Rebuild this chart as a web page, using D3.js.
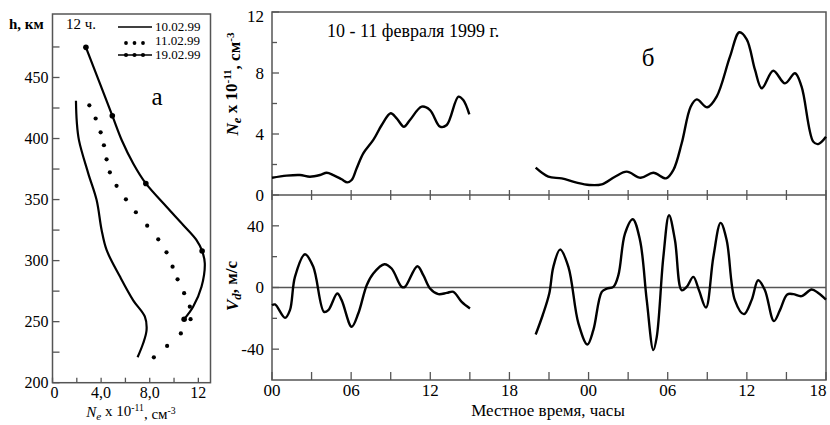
<!DOCTYPE html>
<html><head><meta charset="utf-8">
<script src="https://cdn.jsdelivr.net/npm/d3@7"></script>
<style>
body{margin:0;background:#fff}
svg{display:block}
text{font-family:"Liberation Serif","Times New Roman",serif;fill:#000}
</style>
</head><body>
<svg id="c" width="830" height="425"></svg>
<script>
// ---------- Panel (а): electron density profiles, [Ne, h] ----------
const profile1002 = [[1.93,431.0],[2.0,413.4],[2.18,398.5],[2.94,371.5],[3.63,349.6],[4.04,325.1],[4.45,308.7],[5.55,286.9],[6.64,267.5],[7.6,254.1],[7.74,243.2],[7.46,232.3],[7.0,220.8]];
const profile1102 = [[3.03,427.2],[3.55,416.4],[3.96,405.1],[4.23,394.5],[4.45,383.0],[4.72,372.3],[5.27,361.3],[6.04,350.2],[6.86,339.6],[7.79,328.6],[8.7,317.4],[9.38,306.8],[9.88,295.0],[10.29,284.7],[10.83,273.3],[11.30,262.3],[11.36,252.0],[10.56,240.4],[9.43,230.1],[8.34,220.8]];
const profile1902 = [[2.75,474.7],[4.92,418.7],[5.69,398.8],[6.64,379.6],[7.68,363.2],[9.38,344.1],[10.75,329.2],[11.85,316.8],[12.31,307.9],[12.53,297.8],[12.26,278.6],[11.57,262.2],[10.83,252.0]];
const markers1902 = [[2.75,474.7],[4.92,418.7],[7.68,363.2],[12.31,307.9],[10.83,252.0]];
const legendLabels = ["10.02.99","11.02.99","19.02.99"];
const hTicks = [200,250,300,350,400,450];
const hMinor = [225,275,325,375,425,475];
const neTicksL = [0,4,8,12];
const neTickLabelsL = ["0","4,0","8,0","12"];
const neMinorL = [2,6,10];

// ---------- Panel (б): time series, [hour since 00 on 10.02, value] ----------
const neDay1 = [[0,1.13],[1.11,1.27],[2.12,1.31],[2.88,1.2],[3.64,1.31],[4.15,1.46],[4.65,1.31],[5.28,1.03],[5.71,0.83],[6.04,0.98],[6.42,1.75],[6.92,2.73],[7.68,3.61],[8.32,4.59],[9.0,5.36],[9.45,5.03],[10.0,4.48],[10.46,4.92],[11.35,5.79],[11.98,5.57],[12.74,4.48],[13.25,4.59],[14.13,6.45],[14.5,6.23],[14.96,5.29]];
const neDay2 = [[19.99,1.79],[20.95,1.2],[21.96,1.09],[23.1,0.81],[24.06,0.66],[25.0,0.7],[26.0,1.2],[26.89,1.53],[27.95,1.13],[28.91,1.46],[29.87,1.09],[30.43,1.64],[31.06,3.39],[31.74,5.79],[32.2,6.27],[33.0,5.75],[33.71,6.45],[34.72,9.07],[35.43,10.67],[35.99,10.21],[36.62,8.2],[37.13,7.0],[38.0,8.15],[38.89,7.32],[39.65,7.98],[40.15,7.1],[41.03,3.5],[41.41,3.34],[42,3.82]];
const vDay1 = [[0,-11.5],[0.23,-11],[0.99,-19.7],[1.36,-14.7],[1.74,6.9],[2.5,21.6],[3.13,13.4],[3.94,-15.8],[4.27,-14.7],[4.95,-3.9],[5.28,-8.2],[6.04,-25.5],[6.54,-16.9],[7.18,1.5],[7.68,9.1],[8.52,15.1],[9.07,12.3],[9.83,0.4],[10.08,0.4],[11.02,13.8],[11.47,8],[11.98,-0.6],[12.61,-4.3],[13.25,-3.5],[13.75,-2.8],[14.38,-9.3],[15.01,-13.6]];
const vDay2 = [[19.99,-30.5],[20.52,-18],[21.02,-3.9],[21.33,13.4],[21.84,24.6],[22.47,13.4],[23.23,-23.3],[23.91,-37],[24.36,-27.7],[25.0,-2.8],[25.38,-0.7],[25.88,0.4],[26.26,8],[26.76,35],[27.35,44.3],[27.9,30.7],[28.41,-8.2],[28.91,-40.6],[29.17,-32],[29.67,19.8],[30.1,46.9],[30.55,30.7],[31.06,-1.8],[31.44,0.4],[31.94,6.9],[32.37,-1.8],[32.9,-13],[33.46,19.8],[34.01,41.9],[34.47,30.7],[35.09,-8.2],[35.78,-17.3],[36.36,-8.2],[36.86,4.7],[37.37,-1.8],[38.05,-21.8],[38.51,-14.7],[39.06,-4.5],[39.52,-4.3],[40.15,-5.6],[40.91,-1.3],[41.41,-3.5],[42,-7.8]];
const hourTicks = [0,6,12,18,24,30,36,42];
const hourLabels = ["00","06","12","18","00","06","12","18"];
const hourMinor = [3,9,15,21,27,33,39];
const neTicksR = [0,4,8,12];
const neMinorR = [2,6,10];
const vTicks = [-40,0,40];
const vMinor = [-20,20];

const svg = d3.select("#c");
const axisColor = "#555";

// ===== Panel а =====
const xL = d3.scaleLinear([0,13],[52.5,210.5]);
const yL = d3.scaleLinear([200,502],[382.7,14]);
const gL = svg.append("g");
gL.append("rect").attr("x",xL(0)).attr("y",yL(502)).attr("width",xL(13)-xL(0)).attr("height",yL(200)-yL(502))
  .attr("fill","none").attr("stroke",axisColor).attr("stroke-width",1.5);
hTicks.concat(hMinor).forEach(h=>{
  gL.append("line").attr("x1",xL(0)).attr("x2",xL(0)+7).attr("y1",yL(h)).attr("y2",yL(h)).attr("stroke",axisColor).attr("stroke-width",1.3);
});
hTicks.forEach(h=>{
  gL.append("text").attr("x",xL(0)-4).attr("y",yL(h)).attr("dy","0.35em").attr("text-anchor","end").attr("font-size",16).text(h);
});
neTicksL.concat(neMinorL).forEach(v=>{
  gL.append("line").attr("x1",xL(v)).attr("x2",xL(v)).attr("y1",yL(200)).attr("y2",yL(200)-5).attr("stroke",axisColor).attr("stroke-width",1.3);
});
neTicksL.forEach((v,i)=>{
  gL.append("text").attr("x",xL(v)+(i===0?2:0)).attr("y",398).attr("text-anchor","middle").attr("font-size",16).text(neTickLabelsL[i]);
});
function neTitle(t, big){
  t.append("tspan").attr("font-style","italic").text("N");
  t.append("tspan").attr("font-style","italic").attr("font-size","75%").attr("dy","0.25em").text("e");
  t.append("tspan").attr("dy","-0.25em").text(big ? " x 10" : " x 10");
  t.append("tspan").attr("font-size","65%").attr("dy","-0.5em").text("-11");
  t.append("tspan").attr("dy","0.5em").text(", см");
  t.append("tspan").attr("font-size","65%").attr("dy","-0.5em").text("-3");
}
neTitle(gL.append("text").attr("x",131).attr("y",417).attr("text-anchor","middle").attr("font-size",15), false);
gL.append("text").attr("x",9).attr("y",29).attr("font-size",15).attr("font-weight","bold").text("h, км");
gL.append("text").attr("x",66).attr("y",29).attr("font-size",15).text("12 ч.");
gL.append("text").attr("x",157).attr("y",105).attr("text-anchor","middle").attr("font-size",25).text("а");

const lineL = d3.line().x(d=>xL(d[0])).y(d=>yL(d[1])).curve(d3.curveCatmullRom.alpha(0.5));
gL.append("path").attr("d",lineL(profile1002)).attr("fill","none").attr("stroke","#000").attr("stroke-width",2.2);
gL.append("path").attr("d",lineL(profile1902)).attr("fill","none").attr("stroke","#000").attr("stroke-width",2.2);
gL.selectAll("circle.d11").data(profile1102).join("circle").attr("cx",d=>xL(d[0])).attr("cy",d=>yL(d[1])).attr("r",2.1).attr("fill","#000");
gL.selectAll("circle.m19").data(markers1902).join("circle").attr("cx",d=>xL(d[0])).attr("cy",d=>yL(d[1])).attr("r",2.8).attr("fill","#000");

// legend
const lg = gL.append("g");
lg.append("line").attr("x1",118).attr("x2",152).attr("y1",27).attr("y2",27).attr("stroke","#000").attr("stroke-width",1.3);
[126,134.5,143].forEach(x=>lg.append("circle").attr("cx",x).attr("cy",43).attr("r",1.9).attr("fill","#000"));
lg.append("line").attr("x1",118).attr("x2",152).attr("y1",55).attr("y2",55).attr("stroke","#000").attr("stroke-width",1.3);
[126,134.5,143].forEach(x=>lg.append("circle").attr("cx",x).attr("cy",55).attr("r",2.1).attr("fill","#000"));
legendLabels.forEach((s,i)=>lg.append("text").attr("x",155).attr("y",31+i*14).attr("font-size",13).text(s));

// ===== Panel б =====
const x = d3.scaleLinear([0,42],[272,826]);
const yN = d3.scaleLinear([0,12],[195,12]);
const yV = d3.scaleLinear([-60,60],[380,195]);
const gR = svg.append("g");
gR.append("rect").attr("x",x(0)).attr("y",yN(12)).attr("width",x(42)-x(0)).attr("height",yV(-60)-yN(12))
  .attr("fill","none").attr("stroke",axisColor).attr("stroke-width",1.5);
gR.append("line").attr("x1",x(0)).attr("x2",x(42)).attr("y1",yN(0)).attr("y2",yN(0)).attr("stroke",axisColor).attr("stroke-width",1.5);
gR.append("line").attr("x1",x(0)).attr("x2",x(42)).attr("y1",yV(0)).attr("y2",yV(0)).attr("stroke",axisColor).attr("stroke-width",1.3);
// y ticks
neTicksR.forEach(v=>gR.append("line").attr("x1",x(0)).attr("x2",x(0)+7).attr("y1",yN(v)).attr("y2",yN(v)).attr("stroke",axisColor).attr("stroke-width",1.3));
neMinorR.forEach(v=>gR.append("line").attr("x1",x(0)).attr("x2",x(0)+5).attr("y1",yN(v)).attr("y2",yN(v)).attr("stroke",axisColor).attr("stroke-width",1.3));
vTicks.forEach(v=>gR.append("line").attr("x1",x(0)).attr("x2",x(0)+7).attr("y1",yV(v)).attr("y2",yV(v)).attr("stroke",axisColor).attr("stroke-width",1.3));
vMinor.forEach(v=>gR.append("line").attr("x1",x(0)).attr("x2",x(0)+5).attr("y1",yV(v)).attr("y2",yV(v)).attr("stroke",axisColor).attr("stroke-width",1.3));
neTicksR.forEach(v=>gR.append("text").attr("x",264).attr("y",yN(v)+(v===12?4:0)).attr("dy","0.35em").attr("text-anchor","end").attr("font-size",17).text(v));
vTicks.forEach(v=>gR.append("text").attr("x",264).attr("y",yV(v)).attr("dy","0.35em").attr("text-anchor","end").attr("font-size",17).text(v));
// x ticks
hourTicks.concat(hourMinor).forEach(h=>{
  gR.append("line").attr("x1",x(h)).attr("x2",x(h)).attr("y1",yV(-60)).attr("y2",yV(-60)-8).attr("stroke",axisColor).attr("stroke-width",1.3);
  gR.append("line").attr("x1",x(h)).attr("x2",x(h)).attr("y1",yN(0)-5).attr("y2",yN(0)+5).attr("stroke",axisColor).attr("stroke-width",1.3);
});
hourTicks.forEach((h,i)=>{
  const tx = i===hourTicks.length-1 ? x(h)-8 : x(h);
  gR.append("text").attr("x",tx).attr("y",396).attr("text-anchor","middle").attr("font-size",17).text(hourLabels[i]);
});
gR.append("text").attr("x",548).attr("y",416).attr("text-anchor","middle").attr("font-size",17).text("Местное время, часы");
// y titles
neTitle(gR.append("text").attr("transform","translate(238,84) rotate(-90)").attr("text-anchor","middle").attr("font-size",17).attr("font-weight","bold"), true);
const vt = gR.append("text").attr("transform","translate(238,286) rotate(-90)").attr("text-anchor","middle").attr("font-size",17).attr("font-weight","bold");
vt.append("tspan").attr("font-style","italic").text("V");
vt.append("tspan").attr("font-style","italic").attr("font-size","75%").attr("dy","0.25em").text("d");
vt.append("tspan").attr("dy","-0.25em").text(", м/с");
// annotations
gR.append("text").attr("x",327).attr("y",37).attr("font-size",18).text("10 - 11 февраля 1999 г.");
gR.append("text").attr("x",648).attr("y",66).attr("text-anchor","middle").attr("font-size",25).text("б");

const lineN = d3.line().x(d=>x(d[0])).y(d=>yN(d[1])).curve(d3.curveCatmullRom.alpha(0.5));
const lineV = d3.line().x(d=>x(d[0])).y(d=>yV(d[1])).curve(d3.curveCatmullRom.alpha(0.5));
[neDay1, neDay2].forEach(s=>gR.append("path").attr("d",lineN(s)).attr("fill","none").attr("stroke","#000").attr("stroke-width",2.4));
[vDay1, vDay2].forEach(s=>gR.append("path").attr("d",lineV(s)).attr("fill","none").attr("stroke","#000").attr("stroke-width",2.4));
</script>
</body></html>
